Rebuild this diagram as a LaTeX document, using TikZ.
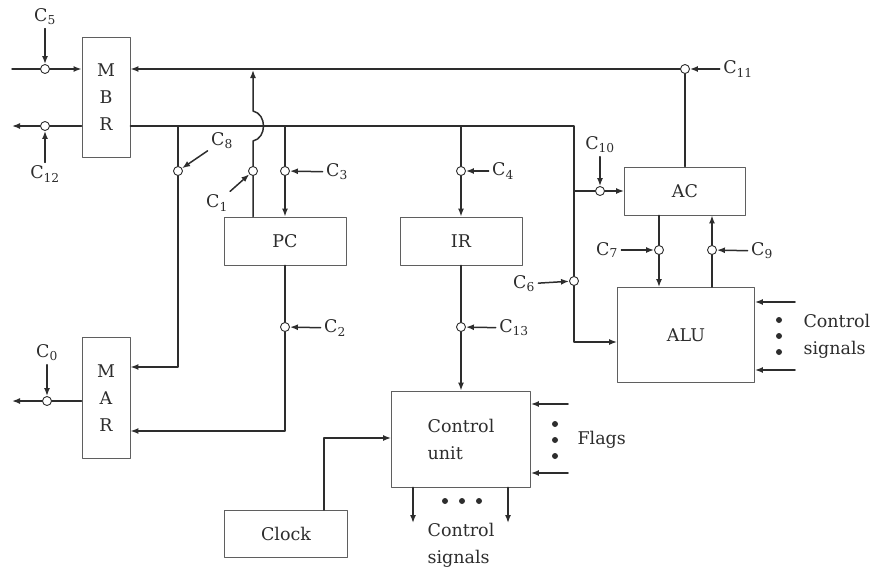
\documentclass[tikz,border=0pt]{standalone}
\usepackage{fontspec}
\setmainfont{DejaVu Serif}
\usetikzlibrary{arrows.meta}
\begin{document}
\begin{tikzpicture}[
    x=1pt, y=-1pt,
    every node/.style={font=\fontsize{17.5}{27}\selectfont, text=wire},
    line join=round,
    line cap=round
]

% Colors
\definecolor{wire}{RGB}{45,45,45}
\definecolor{boxline}{RGB}{95,95,95}

\tikzset{
  regbox/.style={draw=boxline, line width=0.9pt, fill=white, inner sep=0pt},
  bus/.style={draw=wire, line width=1.5pt},
  arr/.style={bus, -{Latex[length=8pt,width=6pt]}},
  gatec/.style={circle, draw=wire, line width=0.9pt, fill=white, inner sep=0pt, minimum size=9pt}
}

\useasboundingbox (0,0) rectangle (875,568);

% ----------------------------------------------------
% Registers and units
% ----------------------------------------------------
\node[regbox, minimum width=48pt, minimum height=120pt, align=center] (mbr) at (106,97) {M\\B\\R};
\node[regbox, minimum width=48pt, minimum height=121pt, align=center] (mar) at (106,398) {M\\A\\R};
\node[regbox, minimum width=122pt, minimum height=48pt] (pc) at (285,241) {PC};
\node[regbox, minimum width=122pt, minimum height=48pt] (ir) at (461,241) {IR};
\node[regbox, minimum width=121pt, minimum height=48pt] (ac) at (685,191) {AC};
\node[regbox, minimum width=137pt, minimum height=95pt] (alu) at (686,335) {ALU};
\node[regbox, minimum width=139pt, minimum height=96pt, align=left] (cu) at (461,439) {Control\\unit};
\node[regbox, minimum width=123pt, minimum height=47pt] (clock) at (286,534) {Clock};

% ----------------------------------------------------
% Control gates
% ----------------------------------------------------
\newcommand{\ctlgate}[3]{\node[gatec] (#1) at (#2,#3) {};}

\ctlgate{g5}{45}{69}
\ctlgate{g12}{45}{126}
\ctlgate{g8}{178}{171}
\ctlgate{g1}{253}{171}
\ctlgate{g3}{285}{171}
\ctlgate{g4}{461}{171}
\ctlgate{g11}{685}{69}
\ctlgate{g10}{600}{191}
\ctlgate{g6}{574}{281}
\ctlgate{g7}{659}{250}
\ctlgate{g9}{712}{250}
\ctlgate{g2}{285}{327}
\ctlgate{g13}{461}{327}
\ctlgate{g0}{47}{401}

% ----------------------------------------------------
% Control signal labels
% ----------------------------------------------------
\node (l5) at (45,17) {C\textsubscript{5}};
\node (l12) at (45,174) {C\textsubscript{12}};
\node (l8) at (222,141) {C\textsubscript{8}};
\node (l1) at (217,203) {C\textsubscript{1}};
\node (l3) at (337,172) {C\textsubscript{3}};
\node (l4) at (503,171) {C\textsubscript{4}};
\node (l11) at (738,69) {C\textsubscript{11}};
\node (l10) at (600,145) {C\textsubscript{10}};
\node (l6) at (524,284) {C\textsubscript{6}};
\node (l7) at (607,250) {C\textsubscript{7}};
\node (l9) at (762,251) {C\textsubscript{9}};
\node (l2) at (335,328) {C\textsubscript{2}};
\node (l13) at (514,328) {C\textsubscript{13}};
\node (l0) at (47,353) {C\textsubscript{0}};

\draw[arr] (l5) -- (g5);
\draw[arr] (l12) -- (g12);
\draw[arr] (l8) -- (g8);
\draw[arr] (l1) -- (g1);
\draw[arr] (l3) -- (g3);
\draw[arr] (l4) -- (g4);
\draw[arr] (l11) -- (g11);
\draw[arr] (l10) -- (g10);
\draw[arr] (l6) -- (g6);
\draw[arr] (l7) -- (g7);
\draw[arr] (l9) -- (g9);
\draw[arr] (l2) -- (g2);
\draw[arr] (l13) -- (g13);
\draw[arr] (l0) -- (g0);

% ----------------------------------------------------
% Buses
% ----------------------------------------------------
\coordinate (in5) at (12,69);
\coordinate (out12) at (12,126);
\coordinate (out0) at (12,401);
\coordinate (b6) at (574,126);
\coordinate (a6) at (574,342);
\coordinate (b10) at (574,191);
\coordinate (m8) at (178,367);
\coordinate (m2) at (285,431);
\coordinate (ck) at (324,438);

% memory side
\draw[arr] (in5) -- (g5) -- (mbr.west |- g5);
\draw[arr] (mbr.west |- b6) -- (g12) -- (out12);
\draw[arr] (mar.west |- g0) -- (g0) -- (out0);

% upper bus, AC to MBR
\draw[bus] (g11 |- ac.north) -- (g11);
\draw[arr] (g11) -- (mbr.east |- g11);

% lower bus, MBR to ALU
\draw[arr] (mbr.east |- b6) -- (b6) -- (g6) -- (a6) -- (alu.west |- a6);
\draw[arr] (b10) -- (g10) -- (ac.west |- g10);
\draw[arr] (g8 |- b6) -- (g8) -- (m8) -- (mar.east |- m8);
\draw[arr] (g3 |- b6) -- (g3) -- (pc.north);
\draw[arr] (g4 |- b6) -- (g4) -- (ir.north);

% PC out, hopping over the lower bus
\draw[arr] (pc.north -| g1) -- (g1) -- (253,141)
  .. controls (267,138) and (267,114) .. (253,111) -- (253,70);
\draw[arr] (pc.south) -- (g2) -- (m2) -- (mar.east |- m2);

% IR to control unit
\draw[arr] (ir.south) -- (g13) -- (cu.north);

% AC and ALU
\draw[arr] (ac.south -| g7) -- (g7) -- (alu.north -| g7);
\draw[arr] (alu.north -| g9) -- (g9) -- (ac.south -| g9);

% clock
\draw[arr] (clock.north -| ck) -- (ck) -- (cu.west |- ck);

% ----------------------------------------------------
% Control signals and flags
% ----------------------------------------------------
\coordinate (s1) at (795,302);
\coordinate (s2) at (795,370);
\coordinate (f1) at (568,404);
\coordinate (f2) at (568,473);
\coordinate (o1) at (413,523);
\coordinate (o2) at (508,523);

\draw[arr] (s1) -- (alu.east |- s1);
\draw[arr] (s2) -- (alu.east |- s2);
\draw[arr] (f1) -- (cu.east |- f1);
\draw[arr] (f2) -- (cu.east |- f2);
\draw[arr] (cu.south -| o1) -- (o1);
\draw[arr] (cu.south -| o2) -- (o2);

\fill[wire] (779,320) circle (3pt);
\fill[wire] (779,336) circle (3pt);
\fill[wire] (779,352) circle (3pt);
\fill[wire] (555,424) circle (3pt);
\fill[wire] (555,440) circle (3pt);
\fill[wire] (555,456) circle (3pt);
\fill[wire] (445,501) circle (3pt);
\fill[wire] (462,501) circle (3pt);
\fill[wire] (479,501) circle (3pt);

\node[anchor=west, align=left] (aluctl) at (800,336) {Control\\signals};
\node[anchor=west] (flags) at (574,440) {Flags};
\node[align=left] (cuctl) at (461,545) {Control\\signals};

\end{tikzpicture}
\end{document}
